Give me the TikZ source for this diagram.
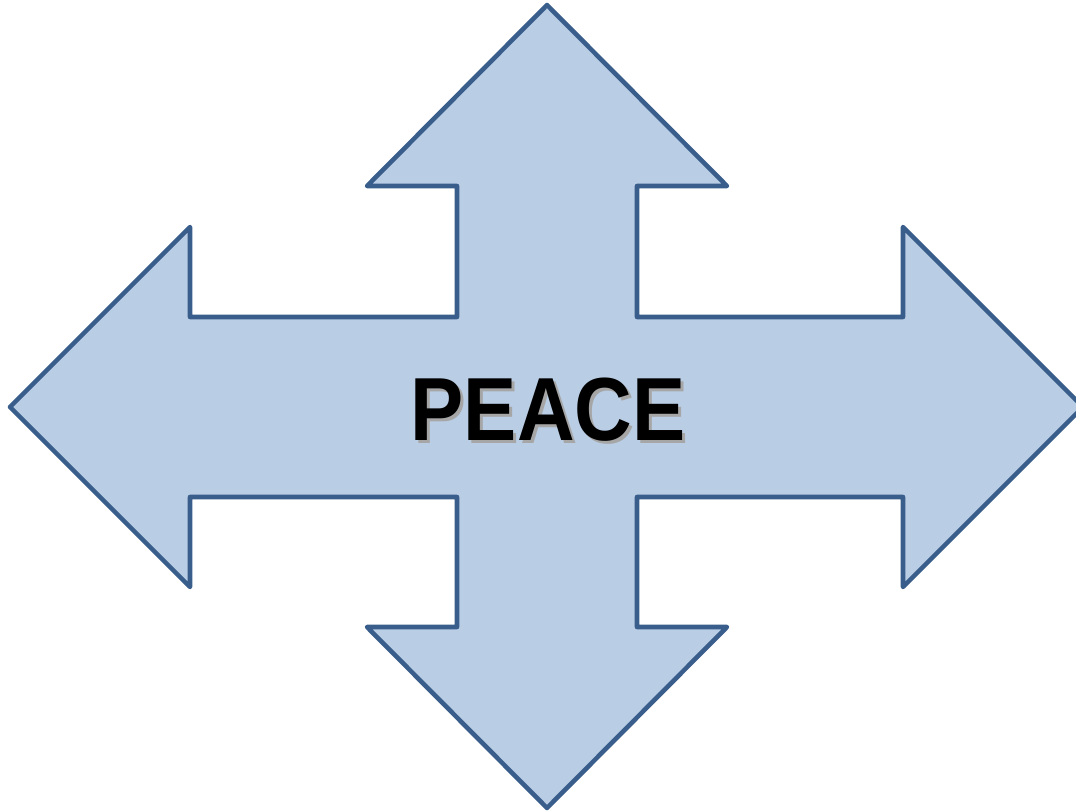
\documentclass[tikz,border=0pt]{standalone}
\usepackage{fontspec}
\setmainfont{Liberation Sans}
\usepackage{tikz}

\definecolor{arrowfill}{HTML}{B9CDE5}
\definecolor{arrowline}{HTML}{3A5E8C}

\begin{document}
\begin{tikzpicture}[x=0.02cm,y=-0.02cm]
    % page frame
    \useasboundingbox (0,0) rectangle (1076,812);

    % four-way arrow
    \draw[arrowline,fill=arrowfill,line width=2.6pt,line join=round]
        (547,5) -- (727,186) -- (637,186) -- (637,317) -- (903,317)
        -- (903,227) -- (1083,407) -- (903,587) -- (903,497) -- (637,497)
        -- (637,627) -- (727,627) -- (547,808) -- (367,627) -- (457,627)
        -- (457,497) -- (190,497) -- (190,587) -- (10,407) -- (190,227)
        -- (190,317) -- (457,317) -- (457,186) -- (367,186) -- cycle;

    % label with shadow
    \node[text=black!35,xscale=0.89,transform shape,font=\fontsize{51}{60}\selectfont\bfseries] (shadow) at (551,413) {PEACE};
    \node[text=black,xscale=0.89,transform shape,font=\fontsize{51}{60}\selectfont\bfseries] (peace) at (548,410) {PEACE};
\end{tikzpicture}
\end{document}
